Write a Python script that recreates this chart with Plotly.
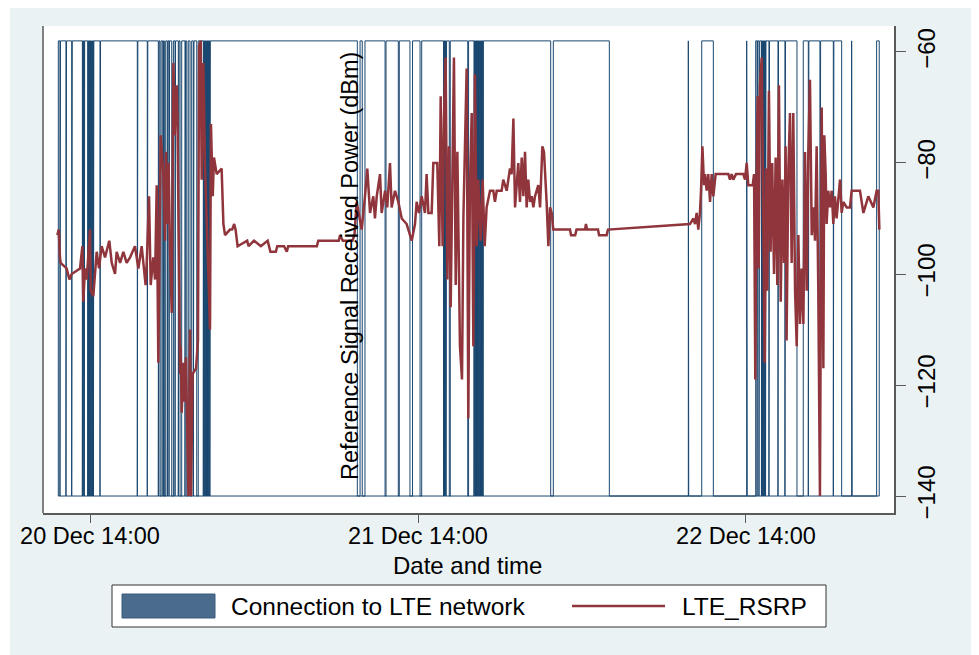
import pandas as pd
import plotly.graph_objects as go

# ---------------- data ----------------
ORIGIN = "2019-12-20 14:00"          # hours below are offsets from this moment

# LTE RSRP samples (hours since origin, dBm)
rsrp_hours = [
    -2.39, -2.29, -2.20, -2.15, -1.71, -1.51, -1.34, -0.73, -0.56, -0.49, -0.37, -0.24,
    0.00, 0.05, 0.24, 0.49, 0.66, 0.85, 1.10, 1.41, 1.59, 1.83, 1.95, 2.20, 2.44, 2.68,
    2.93, 3.29, 3.54, 3.78, 4.07, 4.15, 4.32, 4.44, 4.63, 4.76, 4.88, 5.00, 5.17, 5.37,
    5.49, 5.56, 5.66, 5.75, 5.85, 5.98, 6.10, 6.20, 6.27, 6.34, 6.40, 6.46, 6.59, 6.63,
    6.71, 6.83, 6.90, 7.02, 7.20, 7.32, 7.39, 7.51, 7.76, 7.90, 7.98, 8.10, 8.17, 8.29,
    8.41, 8.78, 8.85, 8.98, 9.07, 9.27, 9.63, 9.76, 9.88, 10.24,
    10.40, 10.55, 10.65, 10.80, 11.50, 11.60, 12.00, 12.50, 13.00, 13.20, 13.60, 13.70,
    14.20, 14.40, 14.50, 15.50, 16.60, 16.70, 17.50, 18.20, 18.30, 18.50, 19.20, 19.35,
    19.51, 19.88, 20.12, 20.29, 20.49, 20.73, 20.85, 20.98, 21.22, 21.34, 21.59, 21.75,
    21.95, 22.07, 22.32, 22.56, 22.81, 23.17, 23.54, 23.78, 23.90, 24.07, 24.27, 24.51,
    24.63, 24.76, 25.00, 25.12, 25.41, 25.56, 25.66, 25.80, 25.90, 26.02, 26.15, 26.27,
    26.39, 26.51, 26.63, 26.76, 26.88, 27.07, 27.22, 27.32, 27.44, 27.56, 27.68, 27.80,
    27.93, 28.05, 28.17, 28.29, 28.41, 28.59, 28.73, 28.88, 29.02, 29.27, 29.51, 29.63,
    29.76, 30.12, 30.24, 30.49, 30.73, 30.85, 30.98, 31.10, 31.22, 31.34, 31.46, 31.59,
    31.71, 31.83, 31.95, 32.07, 32.20, 32.32, 32.44, 32.56, 32.80, 32.93, 33.10, 33.22,
    33.41, 33.54, 33.66, 33.78, 33.90,
    34.10, 35.12, 35.20, 35.50, 35.60, 36.22, 36.29, 36.37, 37.17, 37.25, 37.80, 37.90,
    43.90, 44.15, 44.27, 44.39, 44.51, 44.63, 44.71, 44.81, 44.93, 45.00, 45.12, 45.24,
    45.37, 45.49, 45.61, 45.78, 46.71, 46.83, 46.95, 47.07, 47.27, 47.80, 47.93, 48.05,
    48.17, 48.49, 48.59, 48.68, 48.78, 48.85, 48.93, 49.02, 49.15, 49.27, 49.37, 49.46,
    49.56, 49.68, 49.80, 49.92, 50.05, 50.17, 50.29, 50.41, 50.54, 50.66, 50.78, 50.90,
    50.97, 51.10, 51.22, 51.34, 51.46, 51.59, 51.71, 51.83, 51.95, 52.07, 52.20, 52.32,
    52.44, 52.56, 52.68, 52.81, 52.93, 53.05, 53.17, 53.29, 53.41, 53.54, 53.66, 53.73,
    53.83, 53.90, 54.02, 54.15, 54.27, 54.39, 54.51, 54.63, 54.76, 54.88, 55.00, 55.12,
    55.37, 55.61, 55.73, 56.34, 56.59, 56.95, 57.32, 57.56, 57.68, 57.76,
]
rsrp_dbm = [
    -93, -92, -97, -98, -99, -101, -100, -99, -95, -105, -99, -101,
    -92, -103, -104, -96, -99, -95, -97, -94, -98, -100, -96, -98, -96, -98,
    -97, -95, -99, -95, -102, -98, -86, -102, -97, -101, -84, -116, -75, -82,
    -94, -78, -91, -80, -95, -107, -62, -75, -69, -66, -72, -91, -118, -113,
    -125, -116, -123, -115, -140, -110, -140, -118, -117, -112, -59, -58, -83, -62,
    -80, -110, -73, -86, -79, -82, -81, -91, -93, -92,
    -92, -91, -92, -95, -94, -95, -94, -95, -94, -96, -96, -95,
    -95, -96, -95, -95, -95, -94, -94, -94, -93, -94, -94, -93,
    -87, -92, -86, -81, -89, -86, -90, -86, -82, -89, -85, -88,
    -80, -88, -85, -87, -90, -91, -94, -91, -87, -89, -86, -89,
    -82, -89, -89, -80, -80, -95, -68, -95, -72, -61, -101, -77,
    -106, -78, -61, -102, -78, -113, -119, -90, -75, -63, -126, -84,
    -71, -113, -64, -95, -83, -94, -83, -95, -88, -85, -85, -87,
    -85, -85, -83, -85, -81, -82, -72, -88, -84, -80, -87, -79,
    -86, -78, -88, -83, -87, -86, -88, -86, -84, -88, -77, -78,
    -87, -95, -88, -89, -92,
    -92, -92, -93, -93, -92, -92, -91, -92, -92, -93, -93, -92,
    -91, -90, -91, -89, -92, -89, -85, -77, -84, -82, -85, -82,
    -87, -82, -86, -82, -82, -83, -82, -83, -82, -82, -83, -80,
    -84, -84, -82, -119, -82, -68, -99, -66, -61, -93, -116, -81,
    -103, -67, -96, -80, -100, -79, -102, -66, -105, -83, -98, -77,
    -112, -81, -71, -98, -71, -103, -113, -93, -109, -99, -109, -78,
    -103, -78, -65, -93, -88, -94, -77, -103, -140, -70, -117, -75,
    -82, -91, -85, -88, -85, -91, -86, -90, -87, -83, -89, -87,
    -88, -88, -85, -85, -89, -86, -88, -85, -85, -92,
]

# Periods with a connection to the LTE network (hours since origin)
conn_on_start = [
    -2.32, -2.16, -1.72, -1.30, -0.53, -0.47, -0.39, -0.14, -0.08, -0.02,
    0.04, 0.10, 0.16, 0.22, 0.28, 0.77, 3.50, 4.23, 5.05, 5.20,
    5.38, 5.54, 5.71, 5.82, 6.10, 6.26, 6.51, 6.71, 6.99, 7.19,
    7.44, 7.61, 7.92, 8.32, 8.38, 8.44, 8.50, 8.56, 8.62, 8.68,
    8.74, 8.80, 19.76, 20.12, 21.66, 22.63, 23.60, 24.27, 25.90, 25.96,
    26.02, 26.09, 26.36, 27.70, 28.13, 28.19, 28.25, 28.31, 28.37, 28.43,
    28.49, 28.55, 28.61, 28.67, 28.73, 28.78, 33.90, 43.78, 44.76, 48.05,
    48.71, 48.84, 49.00, 49.16, 49.22, 49.28, 49.34, 49.40, 49.46, 49.72,
    50.38, 50.89, 52.19, 52.60, 53.46, 54.43, 55.73, 57.56,
]
conn_on_end = [
    -2.20, -1.76, -1.34, -0.56, -0.50, -0.42, -0.17, -0.11, -0.05, 0.01,
    0.07, 0.13, 0.19, 0.25, 0.73, 3.46, 4.19, 5.00, 5.12, 5.32,
    5.44, 5.66, 5.78, 5.98, 6.22, 6.46, 6.59, 6.95, 7.08, 7.32,
    7.56, 7.81, 8.29, 8.35, 8.41, 8.47, 8.53, 8.59, 8.65, 8.71,
    8.77, 19.56, 19.92, 21.59, 22.56, 23.41, 24.15, 25.87, 25.93, 25.99,
    26.05, 26.29, 27.64, 28.10, 28.16, 28.22, 28.28, 28.34, 28.40, 28.46,
    28.52, 28.58, 28.64, 28.70, 28.76, 33.71, 38.00, 43.81, 45.61, 48.09,
    48.81, 48.95, 49.13, 49.19, 49.25, 49.31, 49.37, 49.43, 49.68, 50.34,
    50.85, 51.73, 52.56, 53.41, 54.39, 55.00, 55.77, 57.75,
]
CONN_OFF_LEVEL = -140   # plotted level for "not connected"
CONN_ON_LEVEL = -58     # plotted level for "connected"

x_tick_hours = [0, 24, 48]
y_ticks = [-140, -120, -100, -80, -60]
x_range_hours = [-3.44, 58.83]
y_range = [-143.06, -55.32]

legend_labels = ["Connection to LTE network", "LTE_RSRP"]
y_title = "Reference Signal Received Power (dBm)"
x_title = "Date and time"

# ---------------- build ----------------
origin = pd.Timestamp(ORIGIN)
to_time = lambda hs: [origin + pd.Timedelta(hours=h) for h in hs]

cx, cy = [], []
for s, e in zip(conn_on_start, conn_on_end):
    cx += [s, s, e, e]
    cy += [CONN_OFF_LEVEL, CONN_ON_LEVEL, CONN_ON_LEVEL, CONN_OFF_LEVEL]
cx.append(conn_on_start[0])
cy.append(CONN_OFF_LEVEL)

NAVY = "#1A476F"
MAROON = "#90353B"
BG = "#EAF2F3"
AXIS = "#5a5a5a"
FONT = "Liberation Sans, Arial, sans-serif"

fig = go.Figure()
fig.add_trace(go.Scatter(x=to_time(cx), y=cy, mode="lines",
                         line=dict(color=NAVY, width=1), name=legend_labels[0],
                         showlegend=False, hoverinfo="skip"))
fig.add_trace(go.Scatter(x=to_time(rsrp_hours), y=rsrp_dbm, mode="lines",
                         line=dict(color=MAROON, width=2.5), name=legend_labels[1],
                         showlegend=False))

# the page adds an 8px body margin, so the figure is 8px smaller and all
# reference pixel positions are shifted by OFF
OFF = 8
W, H = 979 - OFF, 655 - OFF
L, T = 43 - OFF, 26 - OFF
R = W - (894 - OFF)
B = H - (513 - OFF)
pw, ph = W - L - R, H - T - B
px = lambda x: (x - OFF - L) / pw          # reference pixel -> paper x
py = lambda y: (H - B - (y - OFF)) / ph    # reference pixel -> paper y

fig.update_layout(
    width=W, height=H,
    margin=dict(l=L, r=R, t=T, b=B, pad=0),
    paper_bgcolor=BG, plot_bgcolor="white",
    font=dict(family=FONT, color="black", size=24),
    showlegend=False,
    xaxis=dict(type="date", range=to_time(x_range_hours),
               tickvals=to_time(x_tick_hours), tickformat="%d %b %H:%M",
               ticks="outside", ticklen=8, tickwidth=1.3, tickcolor=AXIS,
               ticklabelstandoff=-7,
               showline=True, linecolor=AXIS, linewidth=1.5,
               showgrid=False, zeroline=False,
               tickfont=dict(size=23.5)),
    yaxis=dict(side="right", range=y_range, tickvals=y_ticks,
               ticks="outside", ticklen=10, tickwidth=1.3, tickcolor=AXIS,
               tickangle=-90, tickfont=dict(size=24),
               showline=True, linecolor=AXIS, linewidth=1.5,
               showgrid=False, zeroline=False),
)

shapes = [
    # white left margin of the exported picture
    dict(type="rect", xref="paper", yref="paper", x0=px(OFF), x1=px(10), y0=py(655), y1=py(OFF),
         fillcolor="white", line=dict(width=0)),
    # left frame line of the plot region
    dict(type="line", xref="paper", yref="paper", x0=0, x1=0, y0=0, y1=1,
         line=dict(color=AXIS, width=1.5)),
    # legend box
    dict(type="rect", xref="paper", yref="paper", x0=px(112), x1=px(826), y0=py(627), y1=py(585),
         fillcolor="white", line=dict(color="#333333", width=1)),
    dict(type="rect", xref="paper", yref="paper", x0=px(122), x1=px(215), y0=py(618), y1=py(594),
         fillcolor="#4a6b8c", line=dict(color="#3c5d7e", width=1)),
    dict(type="line", xref="paper", yref="paper", x0=px(572), x1=px(665), y0=py(606), y1=py(606),
         line=dict(color=MAROON, width=2.5)),
]
fig.update_layout(shapes=shapes)

fig.add_annotation(xref="paper", yref="paper", x=px(350), y=py(266), text=y_title,
                   textangle=-90, showarrow=False, font=dict(size=23.5),
                   xanchor="center", yanchor="middle")
fig.add_annotation(xref="paper", yref="paper", x=px(467), y=py(565), text=x_title,
                   showarrow=False, font=dict(size=24), xanchor="center", yanchor="middle")
fig.add_annotation(xref="paper", yref="paper", x=px(229), y=py(606), text=legend_labels[0],
                   showarrow=False, font=dict(size=24.5), xanchor="left", yanchor="middle")
fig.add_annotation(xref="paper", yref="paper", x=px(680), y=py(606), text=legend_labels[1],
                   showarrow=False, font=dict(size=24.5), xanchor="left", yanchor="middle")

fig.write_html("out.html")
